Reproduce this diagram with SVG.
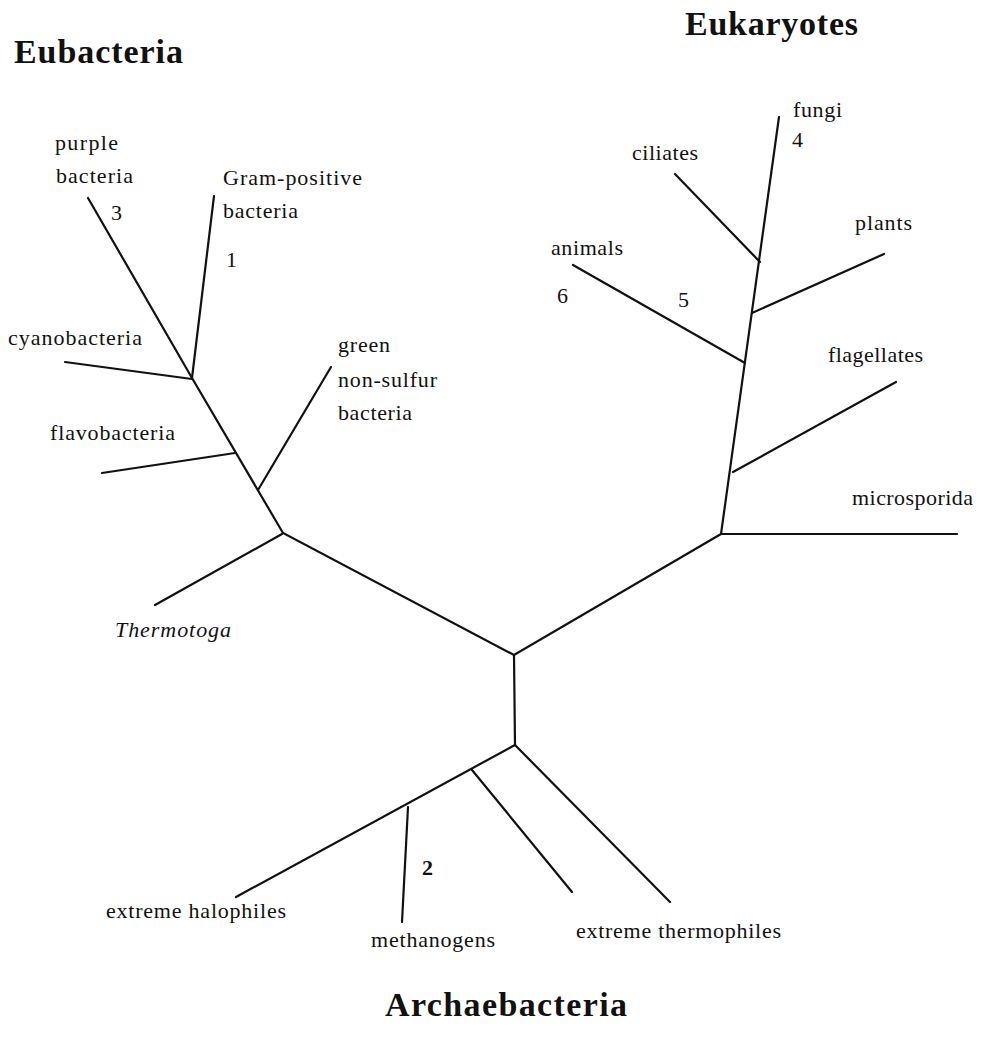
<svg xmlns="http://www.w3.org/2000/svg" width="984" height="1040" viewBox="0 0 984 1040">
<style>
.e{stroke:#111;stroke-width:2.2;stroke-linecap:round;fill:none}
.t{font-family:"Liberation Serif","Times New Roman",serif;font-size:22px;fill:#111}
.it{font-style:italic}
.h{font-family:"Liberation Serif","Times New Roman",serif;font-size:34px;font-weight:bold;fill:#111}
</style>
<rect width="984" height="1040" fill="#fff"/>
<g id="connectors">
<polyline class="e" points="88,198 192,378 283,533 514,655 721,534 779,117"/>
<line class="e" x1="214" y1="196" x2="192" y2="378"/>
<line class="e" x1="65" y1="362" x2="192" y2="379"/>
<line class="e" x1="102" y1="473" x2="235" y2="453"/>
<line class="e" x1="331" y1="367" x2="258" y2="490"/>
<line class="e" x1="155" y1="605" x2="282" y2="534"/>
<line class="e" x1="514" y1="655" x2="515" y2="745"/>
<line class="e" x1="721" y1="534" x2="957" y2="534" stroke-width="1.8"/>
<line class="e" x1="733" y1="472" x2="896" y2="382"/>
<line class="e" x1="573" y1="265" x2="745" y2="363"/>
<line class="e" x1="752" y1="313" x2="884" y2="254"/>
<line class="e" x1="675" y1="174" x2="760" y2="262"/>
<line class="e" x1="515" y1="745" x2="236" y2="897"/>
<line class="e" x1="408" y1="807" x2="402" y2="922"/>
<line class="e" x1="472" y1="770" x2="572" y2="892"/>
<line class="e" x1="515" y1="745" x2="670" y2="902"/>
</g>
<g id="title-eubacteria"><text class="h" x="14" y="63" textLength="169" lengthAdjust="spacing">Eubacteria</text></g>
<g id="title-eukaryotes"><text class="h" x="685" y="35" textLength="173" lengthAdjust="spacing">Eukaryotes</text></g>
<g id="title-archaebacteria"><text class="h" x="385" y="1016" font-size="36" textLength="242" lengthAdjust="spacing">Archaebacteria</text></g>
<g id="purple-bacteria">
<text class="t" x="55" y="150" textLength="63" lengthAdjust="spacing">purple</text>
<text class="t" x="56" y="183" textLength="77" lengthAdjust="spacing">bacteria</text>
<text class="t" x="111" y="220">3</text>
</g>
<g id="gram-positive">
<text class="t" x="223" y="185" textLength="139" lengthAdjust="spacing">Gram-positive</text>
<text class="t" x="223" y="218" textLength="75" lengthAdjust="spacing">bacteria</text>
<text class="t" x="226" y="267">1</text>
</g>
<g id="cyanobacteria"><text class="t" x="8" y="345" textLength="134" lengthAdjust="spacing">cyanobacteria</text></g>
<g id="flavobacteria"><text class="t" x="50" y="440" textLength="125" lengthAdjust="spacing">flavobacteria</text></g>
<g id="green-non-sulfur">
<text class="t" x="338" y="352" textLength="52" lengthAdjust="spacing">green</text>
<text class="t" x="338" y="387" textLength="99" lengthAdjust="spacing">non-sulfur</text>
<text class="t" x="338" y="420" textLength="74" lengthAdjust="spacing">bacteria</text>
</g>
<g id="thermotoga"><text class="t it" x="115" y="637" textLength="116" lengthAdjust="spacing">Thermotoga</text></g>
<g id="fungi">
<text class="t" x="793" y="117" textLength="49" lengthAdjust="spacing">fungi</text>
<text class="t" x="792" y="147">4</text>
</g>
<g id="ciliates"><text class="t" x="632" y="160" textLength="66" lengthAdjust="spacing">ciliates</text></g>
<g id="plants"><text class="t" x="855" y="230" textLength="57" lengthAdjust="spacing">plants</text></g>
<g id="animals">
<text class="t" x="551" y="255" textLength="72" lengthAdjust="spacing">animals</text>
<text class="t" x="557" y="303">6</text>
<text class="t" x="678" y="307">5</text>
</g>
<g id="flagellates"><text class="t" x="828" y="362" textLength="95" lengthAdjust="spacing">flagellates</text></g>
<g id="microsporida"><text class="t" x="852" y="505" textLength="121" lengthAdjust="spacing">microsporida</text></g>
<g id="extreme-halophiles"><text class="t" x="106" y="918" textLength="180" lengthAdjust="spacing">extreme halophiles</text></g>
<g id="methanogens">
<text class="t" x="371" y="947" textLength="124" lengthAdjust="spacing">methanogens</text>
<text class="t" x="422" y="875" font-weight="bold">2</text>
</g>
<g id="extreme-thermophiles"><text class="t" x="576" y="938" textLength="205" lengthAdjust="spacing">extreme thermophiles</text></g>
</svg>
